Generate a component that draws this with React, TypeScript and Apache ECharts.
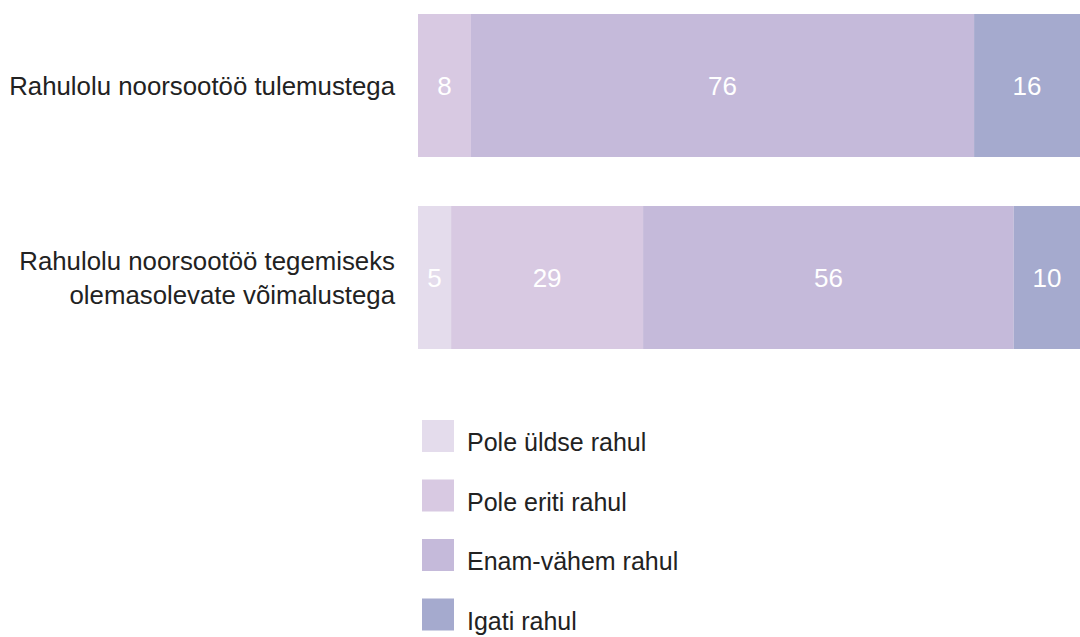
import React, { useEffect, useRef } from "react";
import * as echarts from "echarts";

const categories = [
  "Rahulolu noorsootöö tulemustega",
  "Rahulolu noorsootöö tegemiseks\nolemasolevate võimalustega",
];
const seriesNames = ["Pole üldse rahul", "Pole eriti rahul", "Enam-vähem rahul", "Igati rahul"];
const poleUldseRahul = [0, 5];
const poleEritiRahul = [8, 29];
const enamVahemRahul = [76, 56];
const igatiRahul = [16, 10];
const colors = ["#e4dcec", "#d8c9e2", "#c5bada", "#a5aace"];

export default function App() {
  const ref = useRef<HTMLDivElement>(null);
  useEffect(() => {
    if (!ref.current) return;
    const chart = echarts.init(ref.current, undefined, { renderer: "svg" });
    const values = [poleUldseRahul, poleEritiRahul, enamVahemRahul, igatiRahul];
    chart.setOption({
      animation: false,
      textStyle: { fontFamily: "Liberation Sans, Arial, sans-serif" },
      grid: { left: 418, right: 0, top: -10.5, height: 384, outerBoundsMode: "none", containLabel: false },
      xAxis: { type: "value", min: 0, max: 100, show: false },
      yAxis: {
        type: "category",
        inverse: true,
        data: categories,
        axisLine: { show: false },
        axisTick: { show: false },
        axisLabel: {
          margin: 23,
          fontSize: 25.8,
          color: "#222",
          lineHeight: 34,
          align: "right",
        },
      },
      legend: {
        orient: "vertical",
        left: 422,
        top: 420,
        height: 300,
        padding: 0,
        itemWidth: 32,
        itemHeight: 32,
        itemGap: 25,
        icon: "rect",
        data: seriesNames,
        formatter: (name: string) => "{t|" + name + "}",
        textStyle: {
          fontSize: 25,
          color: "#222",
          rich: { t: { fontSize: 25, color: "#222", padding: [12, 0, 0, 8] } },
        },
      },
      series: seriesNames.map((name, i) => ({
        name,
        type: "bar",
        stack: "total",
        barWidth: 143,
        data: values[i],
        itemStyle: { color: colors[i] },
        label: {
          show: true,
          position: "inside",
          color: "#fff",
          fontSize: 26,
          formatter: (p: any) => (p.value ? String(p.value) : ""),
        },
      })),
    });
    return () => chart.dispose();
  }, []);
  return (
    <div
      ref={ref}
      style={{ position: "fixed", left: 0, top: 0, width: 1080, height: 637, background: "#fff" }}
    />
  );
}
